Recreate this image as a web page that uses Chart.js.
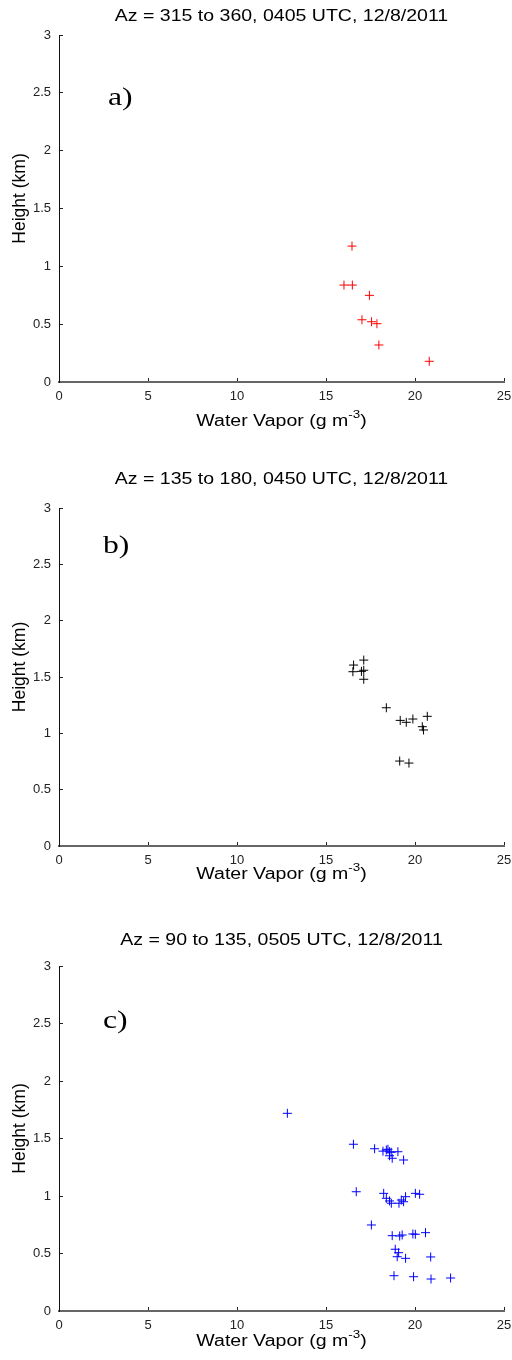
<!DOCTYPE html>
<html>
<head>
<meta charset="utf-8">
<script src="https://cdn.jsdelivr.net/npm/chart.js@4.4.0/dist/chart.umd.min.js"></script>
<style>
  html, body { margin: 0; padding: 0; background: #fff; }
  body { width: 512px; height: 1360px; position: relative; overflow: hidden; }
  canvas { position: absolute; left: 0; }
</style>
</head>
<body>
<canvas id="panelA" width="512" height="450" style="top:0"></canvas>
<canvas id="panelB" width="512" height="450" style="top:450px; filter: blur(0.35px)"></canvas>
<canvas id="panelC" width="512" height="460" style="top:900px"></canvas>
<script>
// shared axis ticks
const xTicks = [0, 5, 10, 15, 20, 25];
const yTicks = [0, 0.5, 1, 1.5, 2, 2.5, 3];

// a) Az 315-360, 0405 UTC
const titleA = 'Az = 315 to 360, 0405 UTC, 12/8/2011';
const vaporA  = [16.46, 16.01, 16.48, 17.44, 17.02, 17.56, 17.86, 17.97, 20.80];
const heightA = [1.175, 0.838, 0.838, 0.749, 0.538, 0.521, 0.504, 0.320, 0.179];

// b) Az 135-180, 0450 UTC
const titleB = 'Az = 135 to 180, 0450 UTC, 12/8/2011';
const vaporB  = [16.55, 17.12, 17.12, 16.51, 16.99, 17.12, 18.39, 19.17, 19.51, 19.88, 20.69, 20.41, 20.48, 19.14, 19.66];
const heightB = [1.606, 1.650, 1.560, 1.547, 1.550, 1.480, 1.227, 1.115, 1.098, 1.127, 1.151, 1.059, 1.030, 0.754, 0.736];

// c) Az 90-135, 0505 UTC
const titleC = 'Az = 90 to 135, 0505 UTC, 12/8/2011';
const vaporC  = [12.83, 16.54, 17.73, 18.20, 18.39, 18.48, 18.57, 18.66, 19.04, 18.57, 18.72, 19.36,
                 16.70, 18.24, 18.39, 18.57, 18.67, 19.10, 19.23, 19.36, 19.47, 20.02, 20.26,
                 17.55, 18.72, 19.14, 19.28, 19.88, 20.02, 20.59,
                 18.89, 19.08, 19.00, 19.47, 20.88,
                 18.82, 19.92, 20.90, 22.00];
const heightC = [1.719, 1.450, 1.411, 1.390, 1.400, 1.406, 1.385, 1.380, 1.385, 1.350, 1.328, 1.313,
                 1.037, 1.023, 0.980, 0.957, 0.937, 0.937, 0.965, 0.950, 0.994, 1.023, 1.015,
                 0.748, 0.655, 0.652, 0.661, 0.670, 0.667, 0.681,
                 0.537, 0.507, 0.472, 0.458, 0.470,
                 0.307, 0.298, 0.278, 0.287];

const SX = 1.22; // horizontal stretch of the figure text
const SANS = '"Liberation Sans", Arial, Helvetica, sans-serif';
const TICKFONT = '"Liberation Sans Narrow", "Arial Narrow", "Liberation Sans", Arial, sans-serif';

function stretchText(ctx, text, x, y, font) {
  ctx.save();
  ctx.font = font;
  ctx.translate(x, y);
  ctx.scale(SX, 1);
  ctx.fillText(text, 0, 0);
  ctx.restore();
}

// title, axis labels and panel letter
const panelText = {
  id: 'panelText',
  afterDraw(chart, args, o) {
    const ctx = chart.ctx, a = chart.chartArea;
    const cx = (a.left + a.right) / 2;
    ctx.save();
    ctx.fillStyle = '#000';
    ctx.textBaseline = 'middle';
    ctx.textAlign = 'center';
    stretchText(ctx, o.title, cx, a.top + o.titleDy, '16px ' + SANS);

    // x label with superscript
    const main = 'Water Vapor (g m', sup = '-3', tail = ')';
    ctx.font = '16px ' + SANS;
    const w1 = ctx.measureText(main).width, w3 = ctx.measureText(tail).width;
    ctx.font = '11px ' + SANS;
    const w2 = ctx.measureText(sup).width;
    const total = (w1 + w2 + w3) * SX;
    let x0 = cx - total / 2;
    const yl = a.bottom + o.xlabDy;
    ctx.textAlign = 'left';
    stretchText(ctx, main, x0, yl, '16px ' + SANS);
    stretchText(ctx, sup, x0 + w1 * SX, yl - 7, '11px ' + SANS);
    stretchText(ctx, tail, x0 + (w1 + w2) * SX, yl, '16px ' + SANS);

    // y label
    ctx.save();
    ctx.textAlign = 'center';
    ctx.translate(20, (a.top + a.bottom) / 2 - 10);
    ctx.rotate(-Math.PI / 2);
    ctx.scale(1, 1.05);
    ctx.font = '17.5px ' + SANS;
    ctx.fillText('Height (km)', 0, 0);
    ctx.restore();

    // panel letter
    ctx.textAlign = 'left';
    ctx.textBaseline = 'alphabetic';
    stretchText(ctx, o.letter, o.letterX, a.top + o.letterDy, '26px "Liberation Serif", "Times New Roman", serif');
    ctx.restore();
  }
};

function makePanel(id, xs, ys, color, o) {
  const el = document.getElementById(id);
  return new Chart(el, {
    type: 'scatter',
    data: {
      datasets: [{
        data: xs.map((v, i) => ({ x: v, y: ys[i] })),
        pointStyle: 'cross',
        pointRadius: 4.5,
        pointHoverRadius: 4.5,
        borderColor: color,
        backgroundColor: color,
        pointBorderWidth: 1
      }]
    },
    options: {
      responsive: false,
      animation: false,
      events: [],
      layout: { padding: { top: o.top, right: 8, bottom: 0, left: 0 } },
      plugins: {
        legend: { display: false },
        tooltip: { enabled: false },
        panelText: o
      },
      scales: {
        x: {
          type: 'linear', min: 0, max: 25,
          afterBuildTicks: s => { s.ticks = xTicks.map(v => ({ value: v })); },
          afterFit: s => { s.height = el.height - o.bottom; s.paddingLeft = 0; s.paddingRight = 0; },
          ticks: { color: '#222', font: { family: TICKFONT, size: 13 }, padding: 11, maxRotation: 0,
                   callback: v => String(v) },
          grid: { drawOnChartArea: false, tickLength: -4, color: '#222', tickWidth: 1 },
          border: { color: '#666', width: 2 }
        },
        y: {
          type: 'linear', min: 0, max: 3,
          afterBuildTicks: s => { s.ticks = yTicks.map(v => ({ value: v })); },
          afterFit: s => { s.width = 59; s.paddingTop = 0; s.paddingBottom = 0; },
          ticks: { color: '#222', font: { family: TICKFONT, size: 13 }, padding: 12,
                   callback: v => String(v) },
          grid: { drawOnChartArea: false, tickLength: -4, color: '#222', tickWidth: 1 },
          border: { color: '#111', width: 1 }
        }
      }
    },
    plugins: [panelText]
  });
}

makePanel('panelA', vaporA, heightA, '#ff0000',
  { title: titleA, letter: 'a)', top: 35, bottom: 382, titleDy: -18, xlabDy: 40, letterX: 108, letterDy: 70 });
makePanel('panelB', vaporB, heightB, '#000000',
  { title: titleB, letter: 'b)', top: 58, bottom: 396, titleDy: -28, xlabDy: 29, letterX: 103, letterDy: 45 });
makePanel('panelC', vaporC, heightC, '#0000ff',
  { title: titleC, letter: 'c)', top: 66, bottom: 411, titleDy: -25, xlabDy: 31, letterX: 103, letterDy: 62 });
</script>
</body>
</html>
